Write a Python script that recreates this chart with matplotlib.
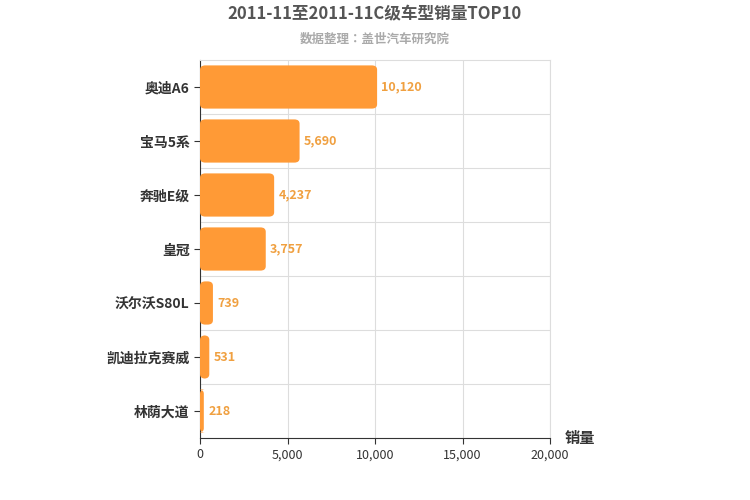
import matplotlib
matplotlib.use("Agg")
import matplotlib.pyplot as plt
from matplotlib.patches import FancyBboxPatch

plt.rcParams['font.family'] = 'sans-serif'
plt.rcParams['font.sans-serif'] = ['Noto Sans CJK SC', 'Noto Sans CJK JP', 'Noto Sans CJK TC',
                                   'Noto Sans CJK KR', 'DejaVu Sans']

categories = ["奥迪A6", "宝马5系", "奔驰E级", "皇冠", "沃尔沃S80L", "凯迪拉克赛威", "林荫大道"]
values = [10120, 5690, 4237, 3757, 739, 531, 218]
xticks = [0, 5000, 10000, 15000, 20000]

fig = plt.figure(figsize=(7.5, 5), dpi=100)
ax = fig.add_axes([200/750, 1-438/500, 350/750, 378/500])
n = len(categories)
ys = list(range(n))
color = "#FF9A36"
for y, v in zip(ys, values):
    p = FancyBboxPatch((0, y-0.4), v, 0.8, boxstyle="round,pad=0,rounding_size=300",
                       mutation_aspect=0.8/300*0.1, fc=color, ec="none", zorder=3)
    ax.add_patch(p)
    ax.text(v + 250, y, f"{v:,}", va="center", ha="left", color="#F0A040",
            fontsize=9, fontweight="bold", zorder=4)
ax.set_xlim(0, 20000)
ax.set_ylim(n-0.5, -0.5)
ax.set_yticks(ys)
ax.set_yticklabels(categories, fontsize=10, fontweight="bold", color="#333")
ax.set_xticks(xticks)
ax.set_xticklabels([f"{t:,}" for t in xticks], fontsize=9, color="#333")
ax.grid(axis="x", color="#ddd", lw=0.8, zorder=0)
for b in [i+0.5 for i in range(n-1)]:
    ax.axhline(b, color="#ddd", lw=0.8, zorder=0)
for s in ["top", "right"]:
    ax.spines[s].set_color("#ddd")
ax.spines["left"].set_color("#333")
ax.spines["bottom"].set_color("#333")
ax.tick_params(axis="y", length=4, color="#333")
ax.tick_params(axis="x", length=4, color="#333")
fig.text(0.5, 1-14/500, "2011-11至2011-11C级车型销量TOP10", ha="center", va="center",
         fontsize=12, fontweight="bold", color="#555")
fig.text(0.5, 1-39/500, "数据整理：盖世汽车研究院", ha="center", va="center",
         fontsize=9, fontweight="bold", color="#aaa")
fig.text(565/750, 1-438/500, "销量", ha="left", va="center", fontsize=11,
         fontweight="bold", color="#333")
fig.savefig("out.png")
